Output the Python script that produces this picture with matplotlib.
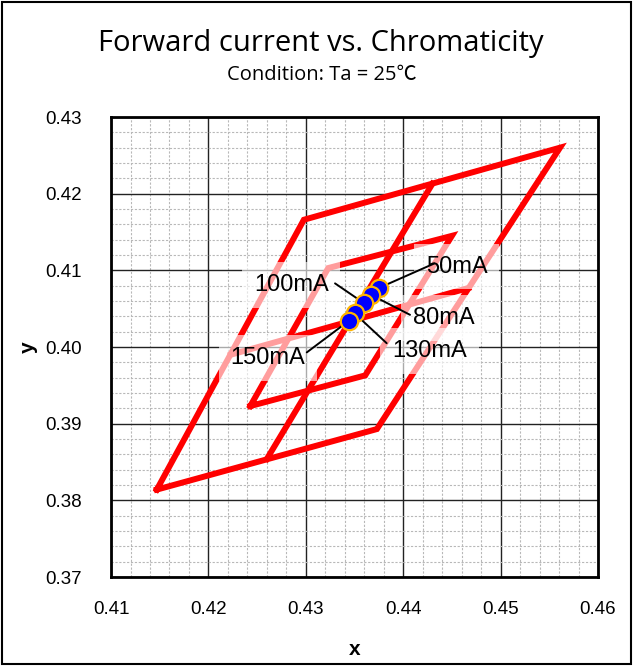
import numpy as np
import matplotlib
matplotlib.use('Agg')
import matplotlib.pyplot as plt
from matplotlib.patches import Rectangle
from matplotlib.ticker import MultipleLocator, FormatStrFormatter

# Chromaticity bin outlines
outer_x = [0.4147, 0.4373, 0.4561, 0.4298, 0.4147]
outer_y = [0.3814, 0.3893, 0.4260, 0.4166, 0.3814]
inner_x = [0.4243, 0.4361, 0.4450, 0.4323, 0.4243]
inner_y = [0.3923, 0.3963, 0.4145, 0.4103, 0.3923]
midh_x = [0.4223, 0.4467]
midh_y = [0.3990, 0.4077]
midv_x = [0.4260, 0.4430]
midv_y = [0.3854, 0.4213]

# Measured points per forward current
currents = ['50mA', '80mA', '100mA', '130mA', '150mA']
pt_x = [0.4375, 0.4367, 0.4360, 0.4350, 0.4344]
pt_y = [0.4077, 0.4068, 0.4057, 0.4044, 0.4034]
lab_x = [0.4455, 0.4442, 0.4285, 0.4427, 0.4261]
lab_y = [0.4105, 0.4038, 0.4081, 0.3995, 0.3986]
# where each leader line leaves its label
lead_x = [0.4432, 0.4407, 0.4330, 0.4383, 0.4301]
lead_y = [0.4109, 0.4042, 0.4083, 0.4005, 0.3993]

fig = plt.figure(figsize=(6.33, 6.66), dpi=100)
fig.patches.append(Rectangle((0.003, 0.003), 0.994, 0.994, transform=fig.transFigure,
                             fill=False, edgecolor='black', linewidth=1.5))

ax = fig.add_axes([0.1754, 0.1336, 0.7693, 0.6907])

red = '#ff0000'
lw = 4.3
ax.plot(outer_x, outer_y, color=red, lw=lw, solid_joinstyle='miter', zorder=2)
ax.plot(inner_x, inner_y, color=red, lw=lw, solid_joinstyle='miter', zorder=2)
ax.plot(midh_x, midh_y, color=red, lw=lw, zorder=2)
ax.plot(midv_x, midv_y, color=red, lw=lw, zorder=2)

# labels with a half transparent white box
for name, lx, ly in zip(currents, lab_x, lab_y):
    ax.text(lx, ly, name, ha='center', va='center', fontsize=17,
            family='Liberation Sans', zorder=3,
            bbox=dict(boxstyle='square,pad=0.5', fc='white', ec='none', alpha=0.62))

# leader lines
for px, py, sx, sy in zip(pt_x, pt_y, lead_x, lead_y):
    ax.annotate('', xy=(px, py), xytext=(sx, sy), zorder=4,
                arrowprops=dict(arrowstyle='-', color='black', lw=1.4,
                                shrinkA=0, shrinkB=0))

ax.plot(pt_x, pt_y, 'o', ms=12.5, mfc='#0000ff', mec='#ffb400', mew=1.6, zorder=5)

ax.set_xlim(0.41, 0.46)
ax.set_ylim(0.37, 0.43)
ax.xaxis.set_major_locator(MultipleLocator(0.01))
ax.yaxis.set_major_locator(MultipleLocator(0.01))
ax.xaxis.set_minor_locator(MultipleLocator(0.002))
ax.yaxis.set_minor_locator(MultipleLocator(0.002))
ax.xaxis.set_major_formatter(FormatStrFormatter('%.2f'))
ax.yaxis.set_major_formatter(FormatStrFormatter('%.2f'))
ax.grid(which='major', color='#222222', lw=1.0, zorder=0)
ax.grid(which='minor', color='#b8b8b8', lw=0.8, ls=(0, (2, 1.5)), zorder=0)
ax.set_axisbelow(True)
ax.tick_params(which='both', length=0)
ax.tick_params(axis='x', pad=17, labelsize=13.5)
ax.tick_params(axis='y', pad=21, labelsize=13.5)
for lab in ax.get_xticklabels() + ax.get_yticklabels():
    lab.set_family('Liberation Sans')
for sp in ax.spines.values():
    sp.set_linewidth(2)
    sp.set_color('black')

ax.set_xlabel('x', fontsize=15, fontweight='bold', family='Liberation Sans', labelpad=16)
ax.set_ylabel('y', fontsize=15, fontweight='bold', family='Liberation Sans', labelpad=5)

fig.text(0.507, 0.934, 'Forward current vs. Chromaticity', ha='center', va='center',
         fontsize=21, family=['Open Sans', 'DejaVu Sans'])
fig.text(0.508, 0.887, 'Condition: Ta = 25℃', ha='center', va='center',
         fontsize=14.5, family=['Open Sans', 'Noto Sans CJK JP', 'DejaVu Sans'])

fig.savefig('out.png', dpi=100)
